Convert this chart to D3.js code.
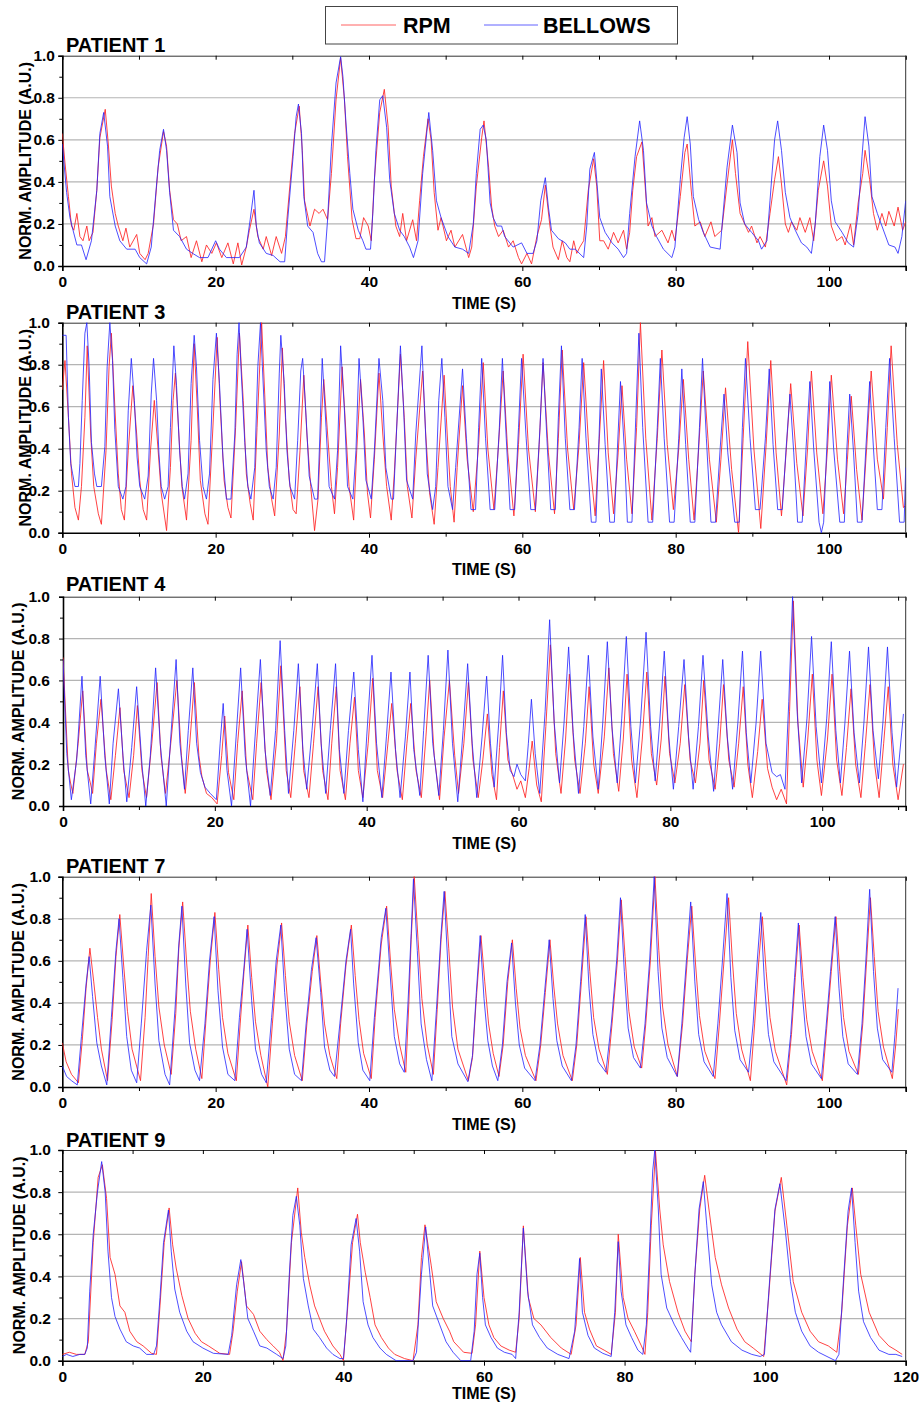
<!DOCTYPE html>
<html><head><meta charset="utf-8">
<script src="https://cdn.jsdelivr.net/npm/d3@7/dist/d3.min.js"></script>
<style>
body{margin:0;background:#fff;}
svg text{font-family:"Liberation Sans",Arial,sans-serif;font-weight:bold;fill:#000;}
</style></head>
<body><svg id="chart" width="923" height="1405"></svg>
<script>
// ---------- DATA (time s, normalised amplitude) ----------
const seriesNames = ["RPM", "BELLOWS"];
const patientTitles = ["PATIENT 1", "PATIENT 3", "PATIENT 4", "PATIENT 7", "PATIENT 9"];
const xMaxes = [110, 110, 111, 110, 120];
const xTickValues = [[0,20,40,60,80,100],[0,20,40,60,80,100],[0,20,40,60,80,100],[0,20,40,60,80,100],[0,20,40,60,80,100,120]];
const yTickValues = [0, 0.2, 0.4, 0.6, 0.8, 1.0];
const axisTitleX = "TIME (S)";
const axisTitleY = "NORM. AMPLITUDE (A.U.)";

const p1Bellows = [[0,0.58],[0.56,0.35],[1,0.23],[1.4,0.17],[1.9,0.10],[2.5,0.10],[3.1,0.03],[3.8,0.12],[4.5,0.36],[4.9,0.63],[5.4,0.73],[5.9,0.57],[6.2,0.33],[6.9,0.19],[7.5,0.12],[8.4,0.08],[9.5,0.08],[10.1,0.04],[11,0.01],[11.6,0.09],[12.3,0.39],[12.7,0.55],[13.2,0.65],[13.6,0.55],[14,0.35],[14.5,0.17],[15.3,0.14],[16.2,0.08],[17,0.06],[17.9,0.04],[19,0.04],[20,0.12],[20.5,0.08],[21.4,0.04],[23.1,0.04],[24,0.09],[24.5,0.22],[25,0.36],[25.3,0.19],[25.7,0.11],[26.6,0.06],[27.5,0.05],[28.4,0.02],[29,0.02],[29.4,0.22],[30.1,0.52],[30.5,0.71],[30.8,0.77],[31.2,0.63],[31.5,0.33],[32,0.19],[32.7,0.16],[33.3,0.06],[33.8,0.02],[34.2,0.02],[34.6,0.22],[35.1,0.57],[35.7,0.87],[36.3,0.995],[36.6,0.90],[37,0.68],[37.5,0.44],[37.9,0.27],[38.6,0.17],[39.2,0.12],[39.6,0.08],[40.2,0.08],[40.5,0.25],[40.9,0.55],[41.4,0.79],[41.8,0.81],[42.3,0.66],[42.7,0.41],[43.3,0.25],[44,0.17],[44.6,0.14],[45.3,0.09],[45.8,0.04],[46.4,0.12],[47,0.44],[47.8,0.73],[48.3,0.55],[48.8,0.31],[49.4,0.23],[50.3,0.14],[51.2,0.09],[52.2,0.08],[53,0.06],[53.6,0.20],[54,0.44],[54.5,0.65],[54.9,0.67],[55.3,0.60],[55.8,0.30],[56.2,0.23],[56.7,0.19],[57.3,0.19],[57.7,0.14],[58.8,0.09],[59.9,0.11],[60.6,0.06],[61.4,0.06],[61.9,0.12],[62.4,0.31],[63,0.42],[63.4,0.28],[63.8,0.17],[64.7,0.13],[65.6,0.11],[66.2,0.08],[66.9,0.08],[68,0.04],[68.4,0.19],[68.8,0.46],[69.4,0.54],[69.7,0.41],[70.1,0.23],[70.8,0.16],[71.7,0.11],[72.5,0.08],[73.2,0.04],[73.6,0.06],[74,0.25],[74.7,0.52],[75.3,0.69],[75.8,0.55],[76.2,0.30],[76.9,0.19],[77.5,0.14],[78.4,0.08],[79.5,0.04],[79.9,0.09],[80.6,0.41],[81.1,0.61],[81.5,0.71],[81.9,0.58],[82.3,0.33],[83,0.22],[83.6,0.16],[84.5,0.09],[85.8,0.08],[86,0.17],[86.7,0.47],[87.4,0.67],[88,0.54],[88.4,0.30],[89,0.20],[89.9,0.16],[90.8,0.12],[91.2,0.08],[91.9,0.12],[92.3,0.31],[92.9,0.60],[93.3,0.69],[93.8,0.55],[94.3,0.35],[94.9,0.23],[95.6,0.17],[96.4,0.11],[97.1,0.09],[97.7,0.06],[98.2,0.20],[98.8,0.52],[99.3,0.67],[99.8,0.55],[100.3,0.31],[100.8,0.21],[101.7,0.16],[102.5,0.11],[103.2,0.09],[103.8,0.25],[104.3,0.52],[104.7,0.71],[105.2,0.57],[105.6,0.33],[106.3,0.25],[106.9,0.19],[107.8,0.10],[108.6,0.09],[109,0.06],[109.5,0.14],[110,0.31]];
const p1Rpm = [[0,0.63],[0.35,0.49],[0.8,0.33],[1.2,0.19],[1.5,0.17],[1.9,0.25],[2.3,0.14],[2.7,0.12],[3.2,0.19],[3.5,0.12],[4,0.16],[4.5,0.36],[4.9,0.61],[5.6,0.745],[6,0.58],[6.4,0.38],[6.9,0.25],[7.3,0.19],[7.9,0.12],[8.3,0.18],[8.8,0.09],[9.7,0.15],[10.1,0.06],[10.8,0.03],[11.2,0.06],[11.9,0.20],[12.5,0.47],[13.2,0.64],[13.6,0.57],[14,0.36],[14.5,0.22],[15,0.20],[15.5,0.12],[16.2,0.14],[16.8,0.04],[17.5,0.12],[18.2,0.02],[18.8,0.10],[19.5,0.06],[20.1,0.11],[20.8,0.04],[21.6,0.11],[22.3,0.01],[22.9,0.11],[23.4,0.005],[24,0.09],[24.4,0.17],[25,0.27],[25.5,0.14],[26.2,0.08],[26.6,0.14],[27.3,0.05],[27.9,0.14],[28.6,0.06],[29.1,0.14],[29.7,0.39],[30.3,0.63],[30.9,0.76],[31.3,0.55],[31.6,0.31],[32.3,0.19],[32.9,0.27],[33.5,0.25],[34,0.27],[34.6,0.22],[35.1,0.44],[35.7,0.79],[36.3,0.99],[36.8,0.79],[37.2,0.52],[37.8,0.22],[38.3,0.13],[38.8,0.13],[39.3,0.23],[39.9,0.19],[40.3,0.12],[40.7,0.41],[41.4,0.73],[42,0.84],[42.5,0.66],[42.9,0.38],[43.5,0.19],[44,0.14],[44.4,0.25],[44.9,0.12],[45.7,0.22],[46.2,0.12],[46.6,0.31],[47.1,0.52],[47.7,0.70],[48.1,0.60],[48.5,0.35],[49,0.17],[49.4,0.23],[50.1,0.12],[50.7,0.17],[51.2,0.09],[52.2,0.15],[53,0.04],[53.4,0.09],[54,0.38],[54.7,0.61],[55,0.69],[55.6,0.47],[56,0.28],[56.4,0.19],[56.9,0.14],[57.5,0.17],[58.2,0.09],[58.8,0.12],[59.5,0.04],[59.9,0.01],[60.6,0.06],[61.2,0.01],[61.9,0.14],[62.5,0.22],[63,0.385],[63.6,0.19],[64,0.09],[64.7,0.03],[65.2,0.12],[65.8,0.04],[66.2,0.02],[66.7,0.12],[67.1,0.06],[67.5,0.09],[68,0.12],[68.6,0.36],[69.3,0.51],[69.7,0.38],[70.1,0.12],[70.6,0.12],[71.2,0.08],[71.9,0.16],[72.5,0.11],[73.2,0.17],[73.6,0.08],[74,0.16],[74.4,0.36],[74.9,0.52],[75.6,0.59],[76,0.39],[76.4,0.19],[76.9,0.23],[77.3,0.14],[78.2,0.17],[79,0.11],[79.5,0.17],[79.9,0.12],[80.6,0.33],[81.2,0.54],[81.5,0.58],[82.1,0.33],[82.5,0.19],[83.2,0.21],[83.8,0.14],[84.6,0.21],[85.1,0.14],[86,0.17],[86.7,0.39],[87.4,0.60],[87.8,0.44],[88.4,0.25],[89,0.20],[89.5,0.16],[89.9,0.19],[90.6,0.11],[91,0.14],[91.7,0.09],[92.3,0.25],[92.9,0.41],[93.4,0.52],[93.8,0.39],[94.3,0.20],[94.7,0.16],[95.1,0.21],[95.8,0.17],[96.2,0.23],[96.9,0.16],[97.5,0.23],[98,0.12],[98.6,0.36],[99.3,0.50],[99.8,0.38],[100.3,0.19],[101,0.12],[101.7,0.14],[102.1,0.10],[102.8,0.20],[103.2,0.10],[103.8,0.30],[104.4,0.44],[104.7,0.55],[105.3,0.41],[105.8,0.25],[106.3,0.17],[106.9,0.25],[107.4,0.19],[107.8,0.26],[108.5,0.19],[109,0.28],[109.6,0.17],[110,0.21]];

const p3Bellows = [[0,0.94],[0.5,0.94],[0.8,0.55],[1.1,0.33],[1.35,0.28],[1.65,0.22],[2.1,0.22],[2.3,0.33],[2.6,0.63],[2.95,0.95],[3.2,1.0],[3.5,0.79],[3.8,0.43],[4.2,0.28],[4.5,0.22],[5.1,0.22],[5.55,0.41],[5.85,0.79],[6.2,1.0],[6.55,0.82],[6.85,0.49],[7.3,0.22],[7.9,0.16],[8.3,0.22],[8.6,0.58],[9,0.83],[9.4,0.63],[9.75,0.36],[10.1,0.22],[10.75,0.16],[11.2,0.27],[11.6,0.66],[11.9,0.83],[12.3,0.63],[12.6,0.38],[12.9,0.22],[13.35,0.16],[13.8,0.22],[14.1,0.50],[14.55,0.89],[14.9,0.70],[15.3,0.39],[15.65,0.22],[15.95,0.16],[16.4,0.28],[16.8,0.71],[17.2,0.94],[17.5,0.79],[17.9,0.44],[18.35,0.22],[18.8,0.16],[19.2,0.28],[19.65,0.73],[20.1,0.95],[20.5,0.71],[20.95,0.36],[21.4,0.16],[22,0.16],[22.5,0.47],[22.8,0.85],[23.05,1.0],[23.3,0.79],[23.8,0.43],[24.2,0.22],[24.6,0.16],[25.1,0.31],[25.5,0.79],[25.85,1.0],[26.1,0.79],[26.6,0.39],[27,0.22],[27.5,0.16],[27.9,0.31],[28.3,0.76],[28.5,0.94],[28.95,0.71],[29.3,0.39],[29.7,0.22],[30.3,0.16],[30.7,0.44],[31.1,0.77],[31.35,0.83],[31.8,0.55],[32.2,0.27],[32.9,0.16],[33.3,0.16],[33.6,0.47],[33.9,0.83],[34.4,0.50],[34.8,0.22],[35.5,0.16],[35.9,0.39],[36.3,0.89],[36.8,0.58],[37.2,0.22],[37.9,0.16],[38.3,0.39],[38.7,0.83],[39.2,0.55],[39.6,0.25],[40.3,0.16],[40.7,0.39],[41.3,0.83],[41.8,0.63],[42.2,0.31],[42.9,0.16],[43.2,0.16],[43.5,0.41],[44.1,0.89],[44.5,0.60],[44.9,0.25],[45.7,0.16],[46.1,0.47],[46.9,0.89],[47.2,0.63],[47.6,0.28],[48.3,0.11],[48.7,0.22],[49.1,0.63],[49.5,0.83],[49.9,0.55],[50.3,0.22],[50.9,0.11],[51.3,0.31],[52.2,0.78],[52.7,0.45],[53.3,0.11],[53.9,0.11],[54.3,0.5],[54.7,0.83],[55.2,0.45],[55.8,0.11],[56.4,0.11],[57,0.5],[57.4,0.83],[57.9,0.45],[58.4,0.11],[59,0.11],[59.5,0.5],[59.9,0.83],[60.5,0.45],[61.1,0.11],[61.7,0.11],[62.3,0.5],[62.7,0.83],[63.2,0.45],[63.7,0.11],[64.3,0.11],[64.7,0.55],[65.1,0.89],[65.6,0.45],[66.2,0.11],[66.8,0.11],[67.4,0.5],[67.8,0.83],[68.3,0.45],[69,0.05],[69.6,0.05],[70,0.45],[70.3,0.78],[70.8,0.42],[71.4,0.05],[72,0.05],[72.4,0.4],[72.8,0.72],[73.3,0.4],[73.7,0.05],[74.3,0.05],[74.8,0.55],[75.2,0.95],[75.7,0.5],[76.4,0.05],[77,0.05],[77.6,0.5],[78,0.83],[78.5,0.45],[79.2,0.05],[79.8,0.05],[80.4,0.45],[80.8,0.78],[81.3,0.42],[81.9,0.05],[82.5,0.05],[83.1,0.5],[83.5,0.83],[84,0.45],[84.6,0.05],[85.2,0.05],[85.8,0.4],[86.3,0.66],[86.8,0.38],[87.7,0.05],[88.3,0.05],[88.7,0.5],[89.1,0.83],[89.7,0.45],[90.4,0.11],[91,0.11],[91.7,0.45],[92.2,0.78],[92.7,0.42],[93.3,0.11],[93.9,0.11],[94.4,0.4],[94.9,0.66],[95.4,0.38],[95.9,0.05],[96.5,0.05],[97,0.4],[97.5,0.72],[98,0.4],[98.7,0.05],[99,0.0],[99.3,0.05],[99.7,0.4],[100.1,0.72],[100.6,0.4],[101.4,0.05],[102,0.05],[102.3,0.38],[102.7,0.66],[103.2,0.38],[103.7,0.05],[104.3,0.05],[104.8,0.4],[105.3,0.72],[105.8,0.4],[106.3,0.11],[106.9,0.11],[107.4,0.5],[107.9,0.83],[108.5,0.45],[109.2,0.05],[109.8,0.05],[110,0.31]];
const p3Rpm = [[0,0.68],[0.35,0.82],[0.8,0.55],[1.2,0.28],[1.65,0.12],[2.1,0.06],[2.5,0.22],[2.95,0.55],[3.25,0.89],[3.7,0.47],[4.1,0.22],[4.7,0.09],[5.1,0.04],[5.7,0.39],[6.1,0.79],[6.4,0.95],[6.85,0.60],[7.3,0.28],[7.7,0.11],[8.1,0.06],[8.6,0.39],[9.2,0.70],[9.7,0.47],[10.1,0.25],[10.55,0.11],[11,0.06],[11.5,0.39],[12,0.63],[12.5,0.39],[12.9,0.19],[13.6,0.01],[14.1,0.31],[14.45,0.63],[14.75,0.76],[15.2,0.47],[15.6,0.22],[16.2,0.06],[16.8,0.44],[17.2,0.90],[17.6,0.60],[18,0.25],[18.6,0.09],[19,0.04],[19.6,0.47],[20.2,0.93],[20.6,0.60],[21.1,0.25],[21.6,0.12],[22,0.07],[22.6,0.50],[23.1,0.95],[23.6,0.63],[24,0.28],[24.5,0.14],[24.9,0.06],[25.4,0.50],[26,1.0],[26.4,0.66],[26.8,0.31],[27.3,0.16],[27.7,0.08],[28.3,0.47],[28.7,0.88],[29.1,0.55],[29.6,0.25],[30.1,0.11],[30.5,0.09],[31,0.39],[31.5,0.75],[31.9,0.47],[32.4,0.22],[32.9,0.01],[33.35,0.16],[33.8,0.55],[34.1,0.73],[34.6,0.47],[35.1,0.22],[35.5,0.09],[35.9,0.31],[36.5,0.79],[37,0.47],[37.4,0.22],[38,0.06],[38.4,0.39],[38.9,0.73],[39.4,0.47],[39.8,0.19],[40.2,0.07],[40.7,0.35],[41.3,0.76],[41.8,0.47],[42.3,0.22],[42.9,0.06],[43.3,0.28],[44.1,0.85],[44.6,0.55],[45,0.22],[45.6,0.07],[46.1,0.35],[47,0.77],[47.4,0.47],[47.9,0.19],[48.5,0.04],[49,0.31],[49.8,0.75],[50.2,0.47],[50.6,0.22],[51.1,0.05],[51.5,0.31],[52.2,0.70],[52.8,0.35],[53.6,0.10],[54.3,0.42],[54.9,0.81],[55.5,0.40],[56.3,0.11],[56.9,0.42],[57.5,0.77],[58.1,0.38],[58.9,0.08],[59.5,0.42],[60.1,0.85],[60.8,0.40],[61.7,0.10],[62.2,0.42],[62.7,0.81],[63.4,0.38],[64.2,0.09],[64.7,0.45],[65.2,0.87],[65.9,0.40],[66.7,0.11],[67.4,0.42],[68,0.81],[68.7,0.38],[69.5,0.08],[70,0.42],[70.6,0.82],[71.2,0.38],[71.9,0.09],[72.5,0.38],[73,0.70],[73.6,0.35],[74.3,0.09],[74.9,0.5],[75.4,1.0],[76.1,0.45],[76.9,0.06],[77.6,0.45],[78.2,0.87],[78.9,0.42],[79.7,0.11],[80.4,0.4],[81,0.73],[81.7,0.35],[82.4,0.06],[83,0.4],[83.6,0.77],[84.4,0.35],[85.3,0.05],[85.9,0.35],[86.5,0.69],[87.3,0.3],[88.2,0.0],[88.8,0.45],[89.4,0.91],[90.2,0.4],[91.1,0.02],[91.8,0.42],[92.4,0.82],[93.1,0.38],[93.8,0.08],[94.4,0.38],[95,0.71],[95.8,0.33],[96.6,0.08],[97.2,0.4],[97.7,0.77],[98.4,0.38],[99.2,0.09],[99.8,0.4],[100.3,0.75],[101.1,0.35],[101.9,0.09],[102.4,0.35],[102.9,0.65],[103.6,0.3],[104.3,0.06],[104.9,0.4],[105.5,0.77],[106.3,0.35],[107.1,0.16],[107.6,0.5],[108.1,0.89],[108.9,0.42],[109.7,0.12],[110,0.13]];

const p4Bellows = [[0,0.70],[0.5,0.25],[1.1,0.03],[1.8,0.22],[2.5,0.62],[3,0.24],[3.65,0.01],[4.2,0.27],[4.9,0.62],[5.5,0.24],[6.1,0.01],[6.6,0.30],[7.3,0.56],[7.9,0.24],[8.4,0.02],[9.05,0.28],[9.7,0.57],[10.4,0.20],[10.9,0.0],[11.5,0.24],[12.2,0.66],[12.8,0.30],[13.6,0.0],[14.2,0.33],[14.9,0.70],[15.4,0.30],[16,0.08],[16.5,0.36],[17.1,0.66],[17.6,0.30],[18.1,0.16],[18.7,0.09],[19.4,0.06],[20.2,0.03],[20.7,0.30],[21.1,0.49],[21.6,0.17],[22.2,0.0],[22.8,0.33],[23.4,0.66],[24,0.24],[24.7,0.0],[25.3,0.33],[26,0.70],[26.6,0.27],[27.3,0.05],[28,0.36],[28.6,0.79],[29.2,0.36],[29.7,0.06],[30.4,0.36],[31,0.68],[31.6,0.27],[32.1,0.08],[32.8,0.36],[33.5,0.68],[34,0.30],[34.6,0.06],[35.2,0.36],[35.9,0.68],[36.4,0.27],[37,0.06],[37.6,0.36],[38.3,0.64],[38.9,0.27],[39.5,0.02],[40,0.33],[40.7,0.72],[41.3,0.30],[42,0.04],[42.6,0.33],[43.2,0.64],[43.8,0.27],[44.4,0.04],[45.1,0.33],[45.7,0.64],[46.2,0.27],[47,0.05],[47.5,0.36],[48.1,0.72],[48.7,0.30],[49.5,0.05],[50.1,0.36],[50.7,0.745],[51.3,0.30],[52,0.02],[52.7,0.36],[53.3,0.68],[53.9,0.30],[54.5,0.04],[55.2,0.33],[55.8,0.62],[56.3,0.30],[56.8,0.09],[57.4,0.40],[57.9,0.72],[58.4,0.35],[58.9,0.17],[59.4,0.14],[59.8,0.20],[60.3,0.15],[60.9,0.12],[61.3,0.30],[61.7,0.51],[62.2,0.25],[62.8,0.06],[63.5,0.45],[64.1,0.89],[64.7,0.40],[65.4,0.11],[66,0.40],[66.6,0.76],[67.2,0.35],[67.9,0.06],[68.6,0.38],[69.2,0.72],[69.8,0.33],[70.5,0.08],[71.1,0.40],[71.7,0.785],[72.3,0.38],[73,0.11],[73.6,0.42],[74.2,0.81],[74.8,0.38],[75.4,0.11],[76.1,0.42],[76.8,0.83],[77.4,0.38],[78,0.12],[78.6,0.40],[79.2,0.74],[79.8,0.33],[80.4,0.08],[81.1,0.38],[81.8,0.70],[82.4,0.33],[83,0.08],[83.7,0.38],[84.3,0.72],[85,0.33],[85.7,0.07],[86.3,0.38],[86.9,0.70],[87.5,0.33],[88.2,0.08],[88.9,0.40],[89.5,0.74],[90,0.35],[90.6,0.11],[91.3,0.40],[91.9,0.74],[92.6,0.30],[93.4,0.16],[94,0.14],[94.5,0.15],[95.1,0.08],[95.6,0.50],[96.1,1.0],[96.7,0.45],[97.3,0.11],[98,0.42],[98.6,0.81],[99.2,0.38],[99.9,0.11],[100.6,0.42],[101.2,0.785],[101.8,0.36],[102.4,0.11],[103,0.40],[103.6,0.74],[104.2,0.35],[104.9,0.11],[105.5,0.40],[106.1,0.76],[106.7,0.36],[107.4,0.13],[108,0.40],[108.6,0.76],[109.2,0.35],[109.8,0.09],[110.7,0.44]];
const p4Rpm = [[0,0.71],[0.7,0.17],[1,0.11],[1.3,0.06],[2,0.30],[2.6,0.55],[3.2,0.17],[3.6,0.11],[3.9,0.06],[4.4,0.30],[5,0.51],[5.7,0.17],[6.3,0.03],[6.9,0.24],[7.5,0.47],[8,0.17],[8.7,0.04],[9.3,0.24],[9.8,0.48],[10.4,0.17],[11,0.04],[11.7,0.30],[12.4,0.59],[12.9,0.24],[13.5,0.06],[14.2,0.30],[15,0.60],[15.6,0.24],[16.1,0.06],[16.7,0.30],[17.3,0.59],[17.9,0.24],[18.3,0.14],[18.9,0.06],[19.6,0.04],[20.3,0.01],[20.9,0.24],[21.3,0.43],[21.8,0.16],[22.5,0.03],[23,0.30],[23.6,0.55],[24.2,0.17],[25,0.03],[25.5,0.30],[26.1,0.59],[26.8,0.17],[27.4,0.03],[28.1,0.30],[28.7,0.67],[29.4,0.17],[30,0.04],[30.6,0.30],[31.2,0.57],[31.7,0.17],[32.4,0.04],[33,0.30],[33.6,0.57],[34.2,0.17],[34.9,0.03],[35.4,0.30],[36,0.57],[36.5,0.17],[37.2,0.03],[37.8,0.30],[38.4,0.52],[38.9,0.17],[39.5,0.04],[40.2,0.30],[40.8,0.61],[41.4,0.17],[42.1,0.04],[42.8,0.30],[43.3,0.49],[44,0.17],[44.7,0.03],[45.3,0.30],[45.8,0.49],[46.5,0.17],[47.2,0.04],[47.8,0.33],[48.3,0.60],[48.9,0.24],[49.6,0.03],[50.2,0.33],[50.9,0.60],[51.6,0.24],[52.1,0.06],[52.8,0.30],[53.4,0.59],[54,0.22],[54.7,0.04],[55.3,0.22],[55.9,0.44],[56.5,0.15],[57.1,0.03],[57.5,0.28],[58,0.55],[58.6,0.22],[59.3,0.14],[59.8,0.08],[60.3,0.12],[60.9,0.04],[61.4,0.18],[61.8,0.31],[62.4,0.10],[63,0.02],[63.6,0.38],[64.2,0.77],[64.9,0.25],[65.6,0.06],[66.2,0.32],[66.7,0.63],[67.4,0.22],[68.1,0.06],[68.8,0.30],[69.3,0.57],[69.9,0.20],[70.5,0.06],[71.3,0.33],[71.9,0.66],[72.5,0.25],[73.2,0.07],[73.8,0.32],[74.3,0.63],[74.9,0.22],[75.6,0.04],[76.3,0.32],[76.9,0.64],[77.5,0.25],[78.2,0.10],[78.8,0.32],[79.3,0.62],[79.9,0.25],[80.6,0.11],[81.3,0.30],[81.9,0.58],[82.6,0.22],[83.3,0.11],[83.9,0.30],[84.4,0.60],[85.1,0.22],[85.9,0.08],[86.5,0.30],[87,0.58],[87.7,0.22],[88.4,0.09],[89,0.30],[89.6,0.57],[90.2,0.20],[90.8,0.04],[91.5,0.26],[92.1,0.51],[92.8,0.18],[93.4,0.09],[94,0.03],[94.6,0.08],[95.3,0.01],[95.7,0.45],[96.2,0.98],[96.8,0.40],[97.5,0.09],[98.1,0.32],[98.7,0.63],[99.3,0.22],[99.9,0.05],[100.7,0.32],[101.3,0.63],[101.9,0.22],[102.6,0.05],[103.2,0.28],[103.8,0.56],[104.4,0.20],[105.1,0.04],[105.7,0.30],[106.3,0.58],[106.9,0.20],[107.5,0.04],[108.1,0.30],[108.7,0.57],[109.3,0.20],[110,0.03],[110.7,0.20]];

const p7Bellows = [[0,0.10],[0.56,0.05],[1.2,0.03],[1.95,0.01],[2.5,0.24],[3.1,0.49],[3.5,0.62],[3.95,0.43],[4.5,0.21],[5.1,0.10],[5.8,0.01],[6.4,0.33],[7,0.65],[7.4,0.80],[7.9,0.52],[8.4,0.24],[9,0.08],[9.7,0.02],[10.3,0.30],[11,0.65],[11.55,0.865],[12.1,0.49],[12.6,0.22],[13.4,0.06],[14,0.01],[14.7,0.37],[15.2,0.68],[15.6,0.86],[16.1,0.49],[16.6,0.21],[17.3,0.08],[17.9,0.03],[18.6,0.30],[19.2,0.60],[19.8,0.81],[20.3,0.46],[20.9,0.19],[21.6,0.06],[22.5,0.03],[23.1,0.33],[23.7,0.57],[24.1,0.75],[24.7,0.41],[25.2,0.18],[26,0.06],[26.6,0.02],[27.3,0.33],[27.9,0.60],[28.5,0.77],[29,0.45],[29.6,0.18],[30.3,0.06],[31.2,0.03],[31.8,0.30],[32.5,0.56],[33.1,0.71],[33.7,0.45],[34.2,0.19],[34.9,0.08],[35.5,0.05],[36.2,0.30],[37,0.60],[37.6,0.75],[38,0.49],[38.6,0.21],[39.2,0.08],[40.1,0.03],[40.7,0.33],[41.6,0.71],[42.2,0.85],[42.7,0.57],[43.3,0.24],[44,0.11],[44.6,0.07],[45.1,0.41],[45.5,0.73],[45.8,0.99],[46.3,0.65],[46.8,0.30],[47.5,0.13],[48.2,0.03],[48.8,0.37],[49.4,0.73],[49.8,0.93],[50.3,0.57],[50.8,0.24],[51.6,0.11],[52.9,0.025],[53.5,0.15],[54,0.45],[54.5,0.72],[55,0.42],[55.5,0.22],[56.1,0.10],[56.8,0.03],[57.4,0.2],[58,0.5],[58.6,0.685],[59.1,0.40],[59.6,0.20],[60.3,0.09],[61.65,0.03],[62.3,0.2],[62.9,0.45],[63.5,0.70],[64,0.42],[64.5,0.22],[65.2,0.10],[66.4,0.03],[67,0.2],[67.6,0.5],[68.2,0.82],[68.7,0.47],[69.2,0.25],[69.9,0.12],[70.9,0.07],[71.6,0.3],[72.3,0.6],[72.8,0.90],[73.3,0.55],[73.8,0.28],[74.5,0.14],[75.4,0.09],[76,0.3],[76.6,0.6],[77.2,1.0],[77.7,0.55],[78.2,0.28],[78.9,0.14],[80.2,0.05],[80.8,0.3],[81.4,0.6],[81.96,0.88],[82.5,0.5],[83,0.25],[83.7,0.12],[84.9,0.05],[85.5,0.3],[86.1,0.6],[86.7,0.92],[87.2,0.52],[87.7,0.27],[88.4,0.13],[89.5,0.07],[90.1,0.3],[90.6,0.58],[91.1,0.83],[91.6,0.48],[92.1,0.25],[92.8,0.12],[94.4,0.03],[95,0.25],[95.5,0.52],[96,0.78],[96.5,0.45],[97,0.24],[97.7,0.11],[99,0.04],[99.6,0.28],[100.2,0.55],[100.8,0.81],[101.3,0.47],[101.8,0.24],[102.5,0.11],[103.7,0.06],[104.3,0.3],[104.8,0.6],[105.3,0.94],[105.8,0.55],[106.3,0.28],[107,0.13],[108.2,0.07],[108.6,0.25],[109,0.47]];
const p7Rpm = [[0,0.21],[0.5,0.12],[1.2,0.06],[2.1,0.02],[2.6,0.22],[3.1,0.47],[3.6,0.66],[4.1,0.50],[4.6,0.33],[5.1,0.18],[5.9,0.03],[6.5,0.32],[7,0.62],[7.5,0.82],[8,0.58],[8.5,0.36],[9.1,0.18],[10.2,0.03],[10.8,0.33],[11.2,0.62],[11.6,0.92],[12.1,0.62],[12.6,0.38],[13.3,0.20],[14.2,0.06],[14.8,0.35],[15.2,0.66],[15.7,0.88],[16.2,0.60],[16.7,0.36],[17.4,0.18],[18.2,0.04],[18.7,0.3],[19.3,0.6],[19.9,0.83],[20.4,0.56],[20.9,0.33],[21.6,0.16],[22.7,0.03],[23.2,0.3],[23.7,0.55],[24.2,0.77],[24.7,0.52],[25.2,0.31],[25.9,0.15],[26.8,0.0],[27.4,0.3],[28,0.58],[28.6,0.78],[29.1,0.53],[29.6,0.31],[30.3,0.15],[31.3,0.03],[31.9,0.3],[32.6,0.55],[33.2,0.72],[33.7,0.5],[34.2,0.3],[34.9,0.15],[35.8,0.04],[36.3,0.3],[37,0.58],[37.7,0.77],[38.2,0.53],[38.7,0.32],[39.3,0.16],[40.3,0.04],[40.8,0.33],[41.6,0.68],[42.3,0.86],[42.8,0.6],[43.3,0.37],[44,0.2],[44.8,0.07],[45.2,0.4],[45.5,0.7],[45.9,1.0],[46.4,0.7],[46.9,0.42],[47.6,0.2],[48.4,0.06],[48.9,0.37],[49.4,0.7],[49.9,0.93],[50.4,0.66],[50.9,0.38],[51.6,0.18],[52.96,0.03],[53.5,0.14],[54,0.42],[54.6,0.72],[55.1,0.50],[55.6,0.30],[56.2,0.16],[56.96,0.05],[57.5,0.2],[58.1,0.5],[58.7,0.70],[59.2,0.47],[59.7,0.28],[60.4,0.15],[61.78,0.03],[62.4,0.2],[63,0.45],[63.6,0.70],[64.1,0.48],[64.6,0.30],[65.3,0.15],[66.52,0.03],[67.1,0.2],[67.7,0.5],[68.3,0.81],[68.8,0.55],[69.3,0.33],[70,0.18],[71.09,0.06],[71.7,0.3],[72.4,0.6],[72.9,0.89],[73.4,0.62],[73.9,0.36],[74.6,0.19],[75.57,0.09],[76.1,0.3],[76.7,0.6],[77.3,1.0],[77.8,0.65],[78.3,0.38],[79,0.2],[80.22,0.05],[80.9,0.3],[81.5,0.6],[82.1,0.86],[82.6,0.58],[83.1,0.34],[83.8,0.17],[85.13,0.04],[85.7,0.3],[86.3,0.6],[86.9,0.90],[87.4,0.6],[87.9,0.35],[88.6,0.18],[89.74,0.03],[90.3,0.3],[90.8,0.58],[91.3,0.81],[91.8,0.55],[92.3,0.33],[93,0.17],[94.48,0.01],[95.1,0.25],[95.6,0.52],[96.1,0.77],[96.6,0.52],[97.1,0.32],[97.8,0.17],[99.13,0.03],[99.7,0.28],[100.3,0.55],[100.9,0.81],[101.4,0.55],[101.9,0.33],[102.6,0.17],[103.83,0.06],[104.4,0.3],[104.9,0.6],[105.4,0.90],[105.9,0.62],[106.4,0.36],[107.1,0.19],[108.26,0.04],[108.7,0.2],[109.04,0.37]];

const p9Bellows = [[0,0.02],[0.6,0.03],[1.5,0.02],[2.5,0.03],[3.2,0.03],[3.55,0.06],[3.9,0.33],[4.4,0.60],[5,0.80],[5.6,0.945],[6.1,0.80],[6.5,0.52],[7,0.30],[7.5,0.21],[8.2,0.15],[9.1,0.09],[10.1,0.07],[11,0.06],[12,0.03],[13,0.03],[13.4,0.07],[13.9,0.30],[14.4,0.56],[15.1,0.715],[15.5,0.52],[16,0.34],[16.7,0.23],[17.7,0.14],[18.6,0.09],[20,0.06],[21.5,0.035],[23.6,0.03],[24.1,0.12],[24.8,0.36],[25.4,0.48],[25.8,0.375],[26.4,0.20],[27.2,0.14],[28.1,0.07],[29.1,0.06],[30.5,0.03],[31.4,0.01],[31.8,0.07],[32.3,0.41],[32.8,0.69],[33.3,0.78],[33.8,0.64],[34.3,0.39],[35,0.26],[35.7,0.15],[36.6,0.11],[37.6,0.06],[38.5,0.03],[39.5,0.01],[40,0.01],[40.4,0.17],[41.1,0.55],[41.8,0.675],[42.3,0.52],[42.8,0.28],[43.5,0.17],[44.2,0.11],[45.2,0.06],[46.1,0.03],[47.5,0.0],[49.9,0.0],[50.4,0.04],[51.1,0.41],[51.7,0.635],[52.3,0.41],[52.7,0.26],[53.7,0.17],[54.6,0.09],[55.6,0.04],[56.7,0.0],[58.1,0.0],[58.6,0.14],[59,0.41],[59.4,0.51],[59.8,0.30],[60.2,0.17],[61,0.11],[61.9,0.06],[62.9,0.04],[64,0.03],[64.5,0.01],[65,0.23],[65.6,0.63],[66.2,0.33],[66.9,0.17],[67.9,0.11],[69,0.06],[70.5,0.03],[72.1,0.01],[72.9,0.14],[73.6,0.485],[74,0.23],[74.8,0.12],[75.7,0.06],[76.9,0.035],[78.1,0.02],[78.6,0.23],[79.1,0.565],[79.5,0.33],[80.2,0.17],[81,0.11],[81.9,0.05],[82.6,0.03],[83.1,0.17],[83.6,0.565],[84,0.90],[84.3,1.0],[84.8,0.72],[85.2,0.41],[86,0.25],[87.1,0.17],[88.1,0.11],[89,0.06],[89.4,0.04],[90,0.41],[90.6,0.72],[91.2,0.85],[91.7,0.64],[92.4,0.36],[93.1,0.23],[93.8,0.17],[95.2,0.09],[96.7,0.05],[98.1,0.03],[99.3,0.02],[99.9,0.03],[100.7,0.41],[101.4,0.72],[102.1,0.84],[102.9,0.61],[103.6,0.375],[104.3,0.23],[105.2,0.14],[106.4,0.07],[107.6,0.04],[108.8,0.02],[110,0.0],[110.5,0.03],[111.2,0.41],[111.8,0.71],[112.3,0.82],[112.8,0.56],[113.3,0.33],[114,0.185],[115,0.11],[116.2,0.05],[117.6,0.03],[118.6,0.03],[119.5,0.02]];
const p9Rpm = [[0,0.03],[1,0.04],[2,0.03],[3.2,0.03],[3.7,0.09],[4.4,0.56],[5.1,0.87],[5.7,0.93],[6.3,0.77],[6.8,0.49],[7.5,0.41],[8.2,0.26],[8.9,0.23],[9.6,0.14],[10.6,0.09],[11.5,0.07],[12.7,0.035],[13.4,0.03],[13.9,0.26],[14.5,0.56],[15.2,0.725],[15.7,0.55],[16.2,0.44],[17,0.31],[17.9,0.20],[18.9,0.13],[19.8,0.09],[20.8,0.07],[22.4,0.035],[23.8,0.03],[24.3,0.14],[24.9,0.33],[25.5,0.47],[26.2,0.26],[27.2,0.22],[28.1,0.14],[29.1,0.10],[30,0.07],[30.9,0.04],[31.4,0.0],[31.9,0.14],[32.6,0.56],[33.5,0.82],[34,0.61],[34.5,0.49],[35.2,0.36],[35.9,0.26],[36.6,0.20],[37.3,0.14],[38.5,0.07],[39.5,0.03],[40,0.0],[40.6,0.25],[41.3,0.56],[42,0.695],[42.4,0.56],[43.1,0.42],[43.8,0.30],[44.5,0.17],[45.4,0.11],[46.4,0.06],[47.3,0.03],[48.7,0.01],[49.9,0.0],[50.6,0.17],[51.1,0.49],[51.6,0.645],[52.5,0.45],[53.2,0.28],[54.2,0.20],[55.1,0.14],[55.7,0.09],[57.1,0.04],[58.3,0.035],[58.8,0.17],[59.4,0.52],[60,0.30],[60.7,0.17],[61.4,0.11],[62.4,0.07],[63.6,0.05],[64.5,0.04],[65,0.20],[65.6,0.64],[66.3,0.30],[67.1,0.20],[68.1,0.17],[69.5,0.11],[71,0.06],[72.4,0.03],[73.1,0.17],[73.7,0.49],[74.3,0.23],[75,0.15],[76,0.07],[77.1,0.05],[78.1,0.03],[78.7,0.23],[79.1,0.60],[79.8,0.30],[80.5,0.20],[81.4,0.14],[82.4,0.07],[82.9,0.03],[83.3,0.23],[83.8,0.64],[84.4,0.995],[85,0.72],[85.5,0.55],[86.4,0.375],[87.6,0.23],[88.6,0.14],[89.5,0.09],[90,0.41],[90.7,0.72],[91.4,0.88],[92,0.72],[92.9,0.49],[93.8,0.36],[94.8,0.25],[96,0.15],[97.1,0.09],[98.3,0.06],[99.8,0.02],[100.5,0.30],[101.4,0.71],[102.3,0.87],[103.1,0.64],[104,0.375],[105.2,0.23],[106.4,0.14],[107.6,0.09],[109,0.07],[110.2,0.04],[110.9,0.23],[111.7,0.64],[112.4,0.82],[112.9,0.64],[113.6,0.41],[114.8,0.23],[116.2,0.12],[117.6,0.07],[118.6,0.05],[119.5,0.03]];

const rpmSeries = [p1Rpm, p3Rpm, p4Rpm, p7Rpm, p9Rpm];
const bellowsSeries = [p1Bellows, p3Bellows, p4Bellows, p7Bellows, p9Bellows];

// ---------- LAYOUT ----------
const colors = {rpm: "#ff2222", bellows: "#2222ff"};
const panelLayout = [
  {top: 55.7, bottom: 266, left: 62.3, right: 905.7, tickLabelRight: 59, yLabelX: 25.5, titleDy: 4, xTitleDy: 42.7},
  {top: 322.7, bottom: 532.7, left: 62.3, right: 905.7, tickLabelRight: 54, yLabelX: 25, titleDy: 4, xTitleDy: 42.7},
  {top: 596.7, bottom: 806, left: 63, right: 905.7, tickLabelRight: 54, yLabelX: 18.5, titleDy: 6, xTitleDy: 42.7},
  {top: 876.7, bottom: 1087, left: 62.3, right: 905.7, tickLabelRight: 55, yLabelX: 18.5, titleDy: 4, xTitleDy: 42.7},
  {top: 1150, bottom: 1360.7, left: 62.3, right: 905.7, tickLabelRight: 55, yLabelX: 19.5, titleDy: 3.5, xTitleDy: 38.5}
];

const svg = d3.select("#chart");
svg.append("rect").attr("width", 923).attr("height", 1405).attr("fill", "#fff");

panelLayout.forEach((L, i) => {
  const x = d3.scaleLinear().domain([0, xMaxes[i]]).range([L.left, L.right]);
  const y = d3.scaleLinear().domain([0, 1]).range([L.bottom, L.top]);
  const g = svg.append("g");
  const clipId = "clip" + i;
  svg.append("clipPath").attr("id", clipId).append("rect")
    .attr("x", L.left).attr("y", L.top - 1).attr("width", L.right - L.left).attr("height", L.bottom - L.top + 2);

  // gridlines
  g.append("g").selectAll("line").data([0.2, 0.4, 0.6, 0.8]).join("line")
    .attr("x1", L.left).attr("x2", L.right).attr("y1", d => y(d)).attr("y2", d => y(d))
    .attr("stroke", "#b4b4b4").attr("stroke-width", 1.2);

  // minor ticks
  const minorX = d3.range(10, xMaxes[i] + 0.01, 20);
  const minorY = [0.1, 0.3, 0.5, 0.7, 0.9];

  // bottom axis
  const bx = g.append("g").attr("transform", `translate(0,${L.bottom})`)
    .call(d3.axisBottom(x).tickValues(xTickValues[i]).tickSize(5).tickPadding(5).tickFormat(d3.format("d")));
  bx.select(".domain").attr("stroke", "#000").attr("stroke-width", 1.6);
  bx.selectAll("text").attr("font-size", 15.5).attr("font-weight", "bold").attr("font-family", "Liberation Sans, Arial, sans-serif").attr("fill", "#000");
  g.append("g").attr("transform", `translate(0,${L.bottom})`)
    .call(d3.axisBottom(x).tickValues(minorX).tickSize(4).tickFormat(""))
    .select(".domain").remove();

  // top axis (inward ticks, no labels)
  const tx = g.append("g").attr("transform", `translate(0,${L.top})`)
    .call(d3.axisTop(x).tickValues(xTickValues[i].concat(minorX)).tickSize(-4).tickFormat(""));
  tx.select(".domain").attr("stroke", "#333").attr("stroke-width", 1);

  // right border
  g.append("line").attr("x1", L.right).attr("x2", L.right).attr("y1", L.top).attr("y2", L.bottom)
    .attr("stroke", "#333").attr("stroke-width", 1);

  // left axis
  const ly = g.append("g").attr("transform", `translate(${L.left},0)`)
    .call(d3.axisLeft(y).tickValues(yTickValues).tickSize(4).tickPadding(L.left - L.tickLabelRight).tickFormat(d3.format(".1f")));
  ly.select(".domain").attr("stroke", "#000").attr("stroke-width", 1.6);
  ly.selectAll(".tick line").attr("stroke-width", 1);
  ly.selectAll("text").attr("font-size", 15.5).attr("font-weight", "bold").attr("font-family", "Liberation Sans, Arial, sans-serif").attr("fill", "#000");
  g.append("g").attr("transform", `translate(${L.left},0)`)
    .call(d3.axisLeft(y).tickValues(minorY).tickSize(3).tickFormat(""))
    .select(".domain").remove();

  // series
  const line = d3.line().x(d => x(d[0])).y(d => y(d[1]));
  const sg = g.append("g").attr("clip-path", `url(#${clipId})`);
  sg.append("path").datum(rpmSeries[i]).attr("d", line)
    .attr("fill", "none").attr("stroke", colors.rpm).attr("stroke-width", 1).attr("stroke-linejoin", "round").attr("opacity", 0.85);
  sg.append("path").datum(bellowsSeries[i]).attr("d", line)
    .attr("fill", "none").attr("stroke", colors.bellows).attr("stroke-width", 1).attr("stroke-linejoin", "round").attr("opacity", 0.8);

  // titles
  g.append("text").attr("x", 66).attr("y", L.top - L.titleDy)
    .attr("font-size", 20).text(patientTitles[i]);
  g.append("text").attr("x", (L.left + L.right) / 2).attr("y", L.bottom + L.xTitleDy)
    .attr("text-anchor", "middle").attr("font-size", 16).text(axisTitleX);
  g.append("text").attr("transform", `translate(${L.yLabelX},${(L.top + L.bottom) / 2}) rotate(-90)`)
    .attr("text-anchor", "middle").attr("dominant-baseline", "central").attr("font-size", 16).text(axisTitleY);
});

// legend
const lg = svg.append("g");
lg.append("rect").attr("x", 325.5).attr("y", 6.5).attr("width", 352).attr("height", 37.5)
  .attr("fill", "#fff").attr("stroke", "#444").attr("stroke-width", 1);
const legendItems = [
  {name: seriesNames[0], color: colors.rpm, x1: 341, x2: 396, tx: 403},
  {name: seriesNames[1], color: colors.bellows, x1: 484, x2: 538, tx: 543}
];
legendItems.forEach(it => {
  lg.append("line").attr("x1", it.x1).attr("x2", it.x2).attr("y1", 25).attr("y2", 25)
    .attr("stroke", it.color).attr("stroke-width", 1).attr("opacity", 0.7);
  lg.append("text").attr("x", it.tx).attr("y", 32.5).attr("font-size", 21.5).text(it.name);
});
</script></body></html>
